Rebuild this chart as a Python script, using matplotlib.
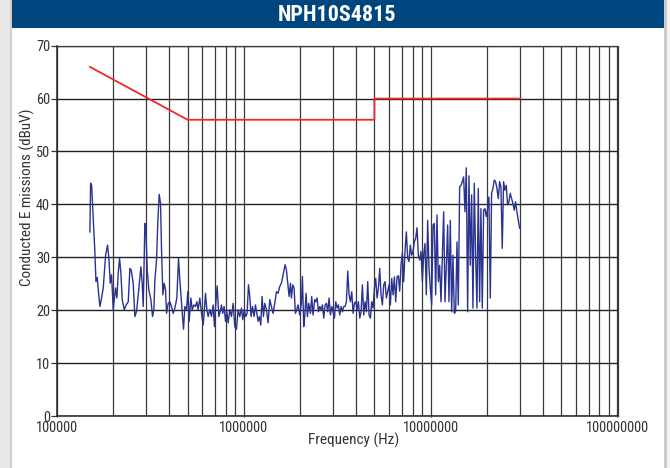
import matplotlib
matplotlib.use("Agg")
import matplotlib.pyplot as plt
from matplotlib import font_manager
from matplotlib.font_manager import FontProperties
from matplotlib.patches import Rectangle
import numpy as np

# measured trace, frequency in MHz and level in dBuV
freq_mhz = [
    0.1500, 0.1513, 0.1532, 0.1564, 0.1596, 0.1616, 0.1642, 0.1663, 0.1697, 0.1732,
    0.1768, 0.1820, 0.1865, 0.1896, 0.1927, 0.1959, 0.2000, 0.2058, 0.2092, 0.2127,
    0.2162, 0.2198, 0.2234, 0.2290, 0.2347, 0.2406, 0.2456, 0.2496, 0.2558, 0.2611,
    0.2666, 0.2721, 0.2812, 0.2858, 0.2894, 0.2954, 0.2990, 0.3040, 0.3103, 0.3180,
    0.3246, 0.3300, 0.3341, 0.3410, 0.3467, 0.3524, 0.3582, 0.3627, 0.3687, 0.3748,
    0.3810, 0.3857, 0.3937, 0.4019, 0.4102, 0.4187, 0.4274, 0.4380, 0.4471, 0.4545,
    0.4639, 0.4697, 0.4755, 0.4834, 0.4934, 0.5016, 0.5099, 0.5205, 0.5291, 0.5400,
    0.5512, 0.5603, 0.5696, 0.5814, 0.5935, 0.6058, 0.6133, 0.6235, 0.6338, 0.6442,
    0.6577, 0.6713, 0.6852, 0.6965, 0.7080, 0.7198, 0.7347, 0.7469, 0.7592, 0.7718,
    0.7845, 0.7976, 0.8108, 0.8242, 0.8413, 0.8587, 0.8765, 0.8946, 0.9132, 0.9321,
    0.9514, 0.9712, 0.9872, 1.0036, 1.0244, 1.0413, 1.0586, 1.0761, 1.0939, 1.1120,
    1.1351, 1.1540, 1.1730, 1.1924, 1.2122, 1.2322, 1.2526, 1.2734, 1.2945, 1.3213,
    1.3486, 1.3766, 1.4052, 1.4343, 1.4640, 1.4943, 1.5255, 1.5570, 1.5893, 1.6222,
    1.6626, 1.6903, 1.7182, 1.7466, 1.7755, 1.7975, 1.8272, 1.8576, 1.8883, 1.9195,
    1.9513, 1.9917, 2.0332, 2.0583, 2.0923, 2.1182, 2.1533, 2.1889, 2.2251, 2.2712,
    2.3087, 2.3469, 2.3955,
    2.427, 2.467, 2.508, 2.550, 2.592, 2.635, 2.678, 2.723, 2.768, 2.813,
    2.860, 2.907, 2.955, 3.004, 3.054, 3.105, 3.156, 3.208, 3.261, 3.315,
    3.370, 3.426, 3.483, 3.540, 3.599, 3.659, 3.719, 3.781, 3.843, 3.907,
    3.972, 4.037, 4.104, 4.172, 4.241, 4.311, 4.383, 4.455, 4.529, 4.604,
    4.680, 4.758, 4.836, 4.916, 4.998, 5.080, 5.165, 5.250, 5.337, 5.425,
    5.515, 5.606, 5.699, 5.793, 5.889, 5.987, 6.086, 6.187, 6.289, 6.393,
    6.499, 6.607, 6.716, 6.827, 6.940, 7.055, 7.172, 7.290, 7.411, 7.534,
    7.658, 7.785, 7.914, 8.045, 8.178, 8.314, 8.451, 8.591, 8.733, 8.878,
    9.025, 9.174, 9.326, 9.480, 9.637, 9.797, 9.959, 10.124, 10.291, 10.462,
    10.635, 10.811, 10.990, 11.172, 11.357, 11.545, 11.736, 11.930, 12.127, 12.328,
    12.532, 12.740, 12.951, 13.165, 13.383, 13.604, 13.829, 14.058, 14.291, 14.528,
    14.768, 15.012, 15.261, 15.514, 15.770, 16.031, 16.297, 16.566, 16.841, 17.119,
    17.403, 17.691, 17.984, 18.281, 18.584, 18.892, 19.204, 19.522, 19.845, 20.174,
    20.507, 20.847, 21.192, 21.543, 21.899, 22.262, 22.630, 23.005, 23.386, 23.773,
    24.166, 24.566, 24.973, 25.386, 25.806, 26.234, 26.668, 27.109, 27.558, 28.014,
    28.478, 28.949, 29.428, 29.915,
]
level_dbuv = [
    34.8, 44.0, 43.6, 37.0, 30.8, 25.4, 26.2, 23.8, 20.7, 22.3,
    24.2, 30.4, 32.3, 29.8, 25.1, 26.7, 20.1, 24.2, 22.3, 27.0,
    29.8, 27.0, 22.0, 20.1, 21.0, 21.6, 27.9, 27.6, 25.1, 18.8,
    19.8, 22.9, 28.2, 25.1, 20.7, 36.4, 35.5, 27.6, 23.8, 22.0,
    18.8, 20.1, 25.7, 29.5, 37.0, 41.9, 40.2, 31.4, 22.9, 25.1,
    23.8, 19.4, 21.3, 21.6, 20.7, 19.4, 20.4, 22.3, 29.8, 25.7,
    21.3, 18.8, 16.4, 20.7, 20.1, 23.5, 17.9, 22.3, 20.1, 21.0,
    20.7, 21.6, 20.1, 22.3, 19.4, 17.2, 19.4, 23.2, 20.1, 18.8,
    20.1, 18.8, 21.0, 16.9, 21.3, 24.6, 18.8, 19.7, 21.0, 19.4,
    20.7, 17.9, 19.7, 17.6, 20.1, 18.8, 21.3, 16.9, 16.4, 20.1,
    18.8, 20.4, 18.2, 20.1, 18.8, 19.4, 24.8, 22.6, 18.8, 20.7,
    18.8, 21.0, 19.4, 17.9, 18.8, 17.2, 22.6, 18.8, 21.3, 20.1,
    17.6, 22.0, 20.7, 19.4, 21.3, 23.5, 23.2, 24.5, 25.1, 26.7,
    28.6, 27.6, 25.1, 22.6, 25.1, 22.3, 24.8, 24.2, 19.4, 20.1,
    21.0, 19.1, 21.3, 26.4, 16.9, 18.8, 23.2, 18.8, 21.3, 19.4,
    22.6, 19.1, 22.0,
    21.6, 22.3, 19.7, 20.7, 20.1, 21.0, 18.5, 21.0, 21.3, 19.7,
    22.3, 19.1, 20.7, 19.7, 18.5, 21.6, 20.4, 21.0, 19.1, 20.7,
    19.7, 20.7, 20.7, 21.6, 27.4, 22.9, 21.6, 23.5, 19.4, 21.3,
    21.6, 20.1, 21.6, 18.5, 19.7, 24.8, 19.1, 21.6, 19.7, 25.4,
    19.1, 18.5, 21.6, 20.4, 24.1, 26.0, 22.3, 24.1, 27.9, 22.9,
    21.0, 24.8, 25.4, 22.3, 23.5, 24.8, 21.0, 26.0, 22.9, 26.3,
    21.6, 26.3, 26.5, 23.6, 28.6, 30.8, 25.4, 31.1, 34.8, 29.8,
    29.2, 32.3, 30.4, 31.1, 32.9, 33.6, 35.6, 30.4, 29.5, 31.1,
    25.4, 30.4, 32.6, 22.9, 37.0, 27.9, 24.1, 21.0, 36.1, 36.4,
    22.9, 38.0, 25.4, 28.5, 21.6, 30.4, 38.6, 21.6, 28.5, 36.1,
    21.6, 37.0, 19.7, 30.4, 19.4, 19.7, 32.9, 21.0, 43.3, 43.6,
    44.3, 45.2, 38.6, 46.9, 19.7, 45.4, 28.5, 41.8, 20.4, 44.0,
    30.4, 20.4, 43.0, 21.6, 39.2, 20.4, 38.9, 39.2, 37.7, 39.2,
    41.4, 22.3, 42.1, 43.0, 44.6, 44.3, 43.0, 41.1, 44.3, 43.3,
    31.7, 44.3, 42.7, 43.6, 39.9, 40.5, 42.1, 41.1, 40.2, 38.9,
    40.5, 38.6, 37.0, 35.5,
]

# limit line
limit_mhz = [0.15, 0.5, 5.0, 5.0, 30.0]
limit_dbuv = [66, 56, 56, 60, 60]

x_ticks = [1e5, 1e6, 1e7, 1e8]
x_tick_labels = ["100000", "1000000", "10000000", "100000000"]
y_ticks = [0, 10, 20, 30, 40, 50, 60, 70]

title = "NPH10S4815"
x_label = "Frequency (Hz)"
y_label = "Conducted E missions (dBuV)"


def pick_font(bold):
    # prefer a narrow sans face, like the condensed Helvetica of the original
    want = 700 if bold else 400
    prefs = ["Liberation Sans Narrow", "Roboto Condensed", "Open Sans Condensed",
             "Noto Sans Condensed", "DejaVu Sans Condensed", "Arial Narrow"]
    found = []
    for f in font_manager.fontManager.ttflist:
        if f.style != "normal":
            continue
        w = f.weight if isinstance(f.weight, int) else (700 if "bold" in str(f.weight) else 400)
        if abs(w - want) > 100:
            continue
        narrow = ("Narrow" in f.name or "Condensed" in f.name
                  or f.stretch in ("condensed", "semi-condensed", 500 - 100, 300, 400 - 25))
        if narrow and "Sans" in f.name or narrow and f.name in ("Roboto", "Roboto Condensed"):
            rank = prefs.index(f.name) if f.name in prefs else len(prefs)
            found.append((rank, f.fname))
    if found:
        found.sort()
        return found[0][1]
    return None


reg_file = pick_font(False)
bold_file = pick_font(True)
plt.rcParams["font.family"] = ["Liberation Sans", "DejaVu Sans"]

W, H = 670, 468
fig = plt.figure(figsize=(W / 100, H / 100), dpi=100, facecolor="white")
renderer = fig.canvas.get_renderer()


def font_for(text, target_px, fname, bold=False):
    # scale the font so the text takes the width it takes in the original
    if fname:
        fp = FontProperties(fname=fname, size=10)
    else:
        fp = FontProperties(family="Liberation Sans", weight="bold" if bold else "normal", size=10)
    t = fig.text(0, 0, text, fontproperties=fp)
    w = t.get_window_extent(renderer).width
    t.remove()
    fp = fp.copy()
    fp.set_size(10 * target_px / w)
    return fp


fp_title = font_for(title, 118, bold_file, bold=True)
fp_label = font_for(x_label, 91, reg_file)
fp_ylabel = font_for(y_label, 177, reg_file)
fp_tick = font_for("100000000", 63, reg_file)

# page frame
fig.patches.append(Rectangle((0, 0), 10 / W, 1, transform=fig.transFigure,
                             facecolor="#e8e8e8", edgecolor="none"))
fig.patches.append(Rectangle((10 / W, 0), 1.5 / W, 1, transform=fig.transFigure,
                             facecolor="#cfcfcf", edgecolor="none"))
fig.patches.append(Rectangle((663.5 / W, 0), 3.5 / W, 1, transform=fig.transFigure,
                             facecolor="#cbcbcb", edgecolor="none"))
fig.patches.append(Rectangle((667 / W, 0), 3 / W, 1, transform=fig.transFigure,
                             facecolor="#f2f2f2", edgecolor="none"))
fig.patches.append(Rectangle((11.5 / W, 1 - 28 / H), 652 / W, 28 / H, transform=fig.transFigure,
                             facecolor="#00467e", edgecolor="none"))
fig.text(337 / W, 1 - 15 / H, title, color="white", fontproperties=fp_title,
         fontweight="bold", ha="center", va="center")

ax = fig.add_axes([57 / W, 52 / H, 560.5 / W, 370.3 / H])
ax.set_xscale("log")
ax.set_xlim(1e5, 1e8)
ax.set_ylim(0, 70)

ax.plot(np.array(limit_mhz) * 1e6, limit_dbuv, color="#f02828", lw=1.3, zorder=3)
ax.plot(np.array(freq_mhz) * 1e6, level_dbuv, color="#2b3391", lw=1.0, zorder=4)

ax.set_xticks(x_ticks)
ax.set_xticklabels(x_tick_labels)
ax.set_yticks(y_ticks)
ax.xaxis.set_minor_locator(matplotlib.ticker.LogLocator(base=10, subs=np.arange(2, 10)))
ax.xaxis.set_minor_formatter(matplotlib.ticker.NullFormatter())
ax.grid(True, which="both", axis="x", color="#3a3a3a", lw=0.9)
ax.grid(True, which="major", axis="y", color="#222222", lw=1.0)
ax.set_axisbelow(True)

ax.tick_params(axis="y", length=4, width=0.9, pad=1, colors="#333333")
ax.tick_params(axis="x", which="major", length=1, width=0.9, pad=2.5, colors="#333333")
ax.tick_params(axis="x", which="minor", length=0)
for lab in ax.get_xticklabels() + ax.get_yticklabels():
    lab.set_fontproperties(fp_tick)
for side in ["left", "bottom"]:
    ax.spines[side].set_color("#222222")
    ax.spines[side].set_linewidth(1.1)
for side in ["top", "right"]:
    ax.spines[side].set_color("#3a3a3a")
    ax.spines[side].set_linewidth(0.9)

ax.set_xlabel(x_label, fontproperties=fp_label, color="#333333")
ax.set_ylabel(y_label, fontproperties=fp_ylabel, color="#333333")
ax.xaxis.set_label_coords((354 - 57) / 560.5, (416 - 440) / 370.3)
ax.yaxis.set_label_coords((27 - 57) / 560.5, (416 - 197) / 370.3)
ax.xaxis.label.set_va("center")
ax.yaxis.label.set_va("center")

fig.savefig("out.png", dpi=100, facecolor=fig.get_facecolor())
